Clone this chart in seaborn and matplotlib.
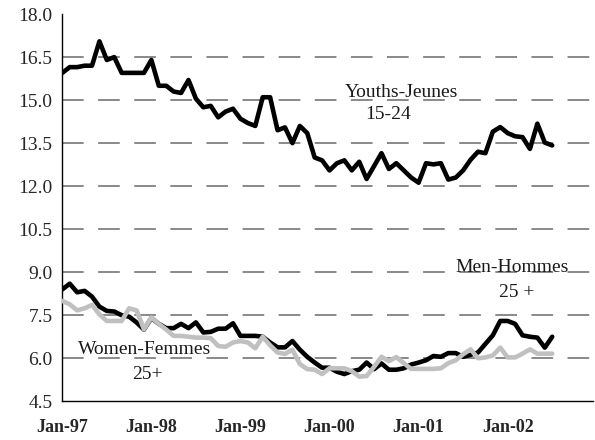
import numpy as np
import pandas as pd
import matplotlib
matplotlib.use("Agg")
import matplotlib.pyplot as plt
import seaborn as sns

# ---- data (monthly, Jan-97 .. Jul-02) ----
youths = [15.95, 16.15, 16.15, 16.2, 16.2, 17.05, 16.4, 16.5, 15.95, 15.95, 15.95, 15.95,
          16.4, 15.5, 15.5, 15.3, 15.25, 15.7, 15.05, 14.75, 14.8, 14.4, 14.6, 14.7,
          14.35, 14.2, 14.1, 15.1, 15.1, 13.95, 14.05, 13.5, 14.1, 13.85, 13.0, 12.9,
          12.55, 12.8, 12.9, 12.55, 12.85, 12.25, 12.7, 13.15, 12.6, 12.8, 12.55, 12.3,
          12.12, 12.8, 12.76, 12.8, 12.23, 12.3, 12.55, 12.92, 13.2, 13.15, 13.9, 14.06,
          13.85, 13.74, 13.71, 13.3, 14.18, 13.52, 13.42]
men = [8.4, 8.6, 8.3, 8.35, 8.15, 7.8, 7.65, 7.63, 7.5, 7.45, 7.25, 7.0,
       7.4, 7.2, 7.05, 7.05, 7.2, 7.05, 7.25, 6.9, 6.92, 7.03, 7.03, 7.22,
       6.78, 6.78, 6.78, 6.75, 6.55, 6.38, 6.38, 6.6, 6.3, 6.05, 5.85, 5.67,
       5.67, 5.53, 5.45, 5.55, 5.6, 5.85, 5.62, 5.82, 5.6, 5.6, 5.65, 5.78,
       5.85, 5.93, 6.08, 6.05, 6.18, 6.18, 6.05, 6.12, 6.2, 6.5, 6.8, 7.3,
       7.3, 7.2, 6.8, 6.75, 6.72, 6.37, 6.75]
women = [8.0, 7.88, 7.67, 7.74, 7.86, 7.53, 7.3, 7.3, 7.3, 7.74, 7.67, 7.01,
         7.42, 7.2, 7.0, 6.78, 6.78, 6.75, 6.72, 6.72, 6.7, 6.43, 6.4, 6.55,
         6.6, 6.55, 6.35, 6.75, 6.45, 6.2, 6.15, 6.3, 5.8, 5.62, 5.6, 5.45,
         5.65, 5.65, 5.65, 5.55, 5.36, 5.38, 5.7, 6.05, 5.9, 6.04, 5.83, 5.63,
         5.63, 5.63, 5.63, 5.65, 5.83, 5.93, 6.14, 6.31, 6.0, 6.03, 6.1, 6.37,
         6.03, 6.03, 6.16, 6.31, 6.16, 6.16, 6.16]
tick_labels = ["Jan-97", "Jan-98", "Jan-99", "Jan-00", "Jan-01", "Jan-02"]
y_ticks = [4.5, 6.0, 7.5, 9.0, 10.5, 12.0, 13.5, 15.0, 16.5, 18.0]

months = np.arange(len(youths))
df = pd.DataFrame({"month": months, "Youths": youths, "Men": men, "Women": women})

sns.set_theme(style="white")
plt.rcParams["font.family"] = ["Liberation Serif", "DejaVu Serif"]

fig = plt.figure(figsize=(5.95, 4.4), dpi=100)
ax = fig.add_axes([0.1047, 0.088, 0.892, 0.88])

# gridlines
for yv in y_ticks[1:-1]:
    ax.axhline(yv, color="#808080", lw=1.3, linestyle=(0, (12, 8)), zorder=1)

sns.lineplot(data=df, x="month", y="Youths", color="black", lw=3.3, ax=ax, zorder=3)
sns.lineplot(data=df, x="month", y="Men", color="black", lw=3.3, ax=ax, zorder=3)
sns.lineplot(data=df, x="month", y="Women", color="#c0c0c0", lw=3.3, ax=ax, zorder=4)

ax.set_xlim(0, 71.5)
ax.set_ylim(4.5, 18.0)
ax.set_xlabel("")
ax.set_ylabel("")

ax.set_yticks(y_ticks)
ax.set_yticklabels([f"{v:.1f}" for v in y_ticks], fontsize=14)
ax.set_xticks(np.arange(0, 72, 12))
ax.set_xticklabels(tick_labels, fontsize=13, fontweight="bold")
ax.set_xticks(np.arange(0, 72, 1), minor=True)
ax.tick_params(axis="x", which="major", direction="out", length=5, width=1, color="black", pad=8)
ax.tick_params(axis="x", which="minor", direction="in", length=4, width=1, color="black")
ax.tick_params(axis="y", which="major", direction="out", length=5, width=1, color="black", pad=2)

for s in ["top", "right"]:
    ax.spines[s].set_visible(False)
for s in ["left", "bottom"]:
    ax.spines[s].set_color("black")
    ax.spines[s].set_linewidth(1.0)

txt = dict(fontsize=14, ha="center", va="center", color="#1a1a1a")
ax.text(45.7, 15.27, "Youths-Jeunes", **txt)
ax.text(43.9, 14.5, "15-24", **txt)
ax.text(60.6, 9.17, "Men-Hommes", **txt)
ax.text(61.2, 8.31, "25 +", **txt)
ax.text(11.1, 6.29, "Women-Femmes", **txt)
ax.text(11.4, 5.45, "25+", **txt)

fig.savefig("out.png", dpi=100)
